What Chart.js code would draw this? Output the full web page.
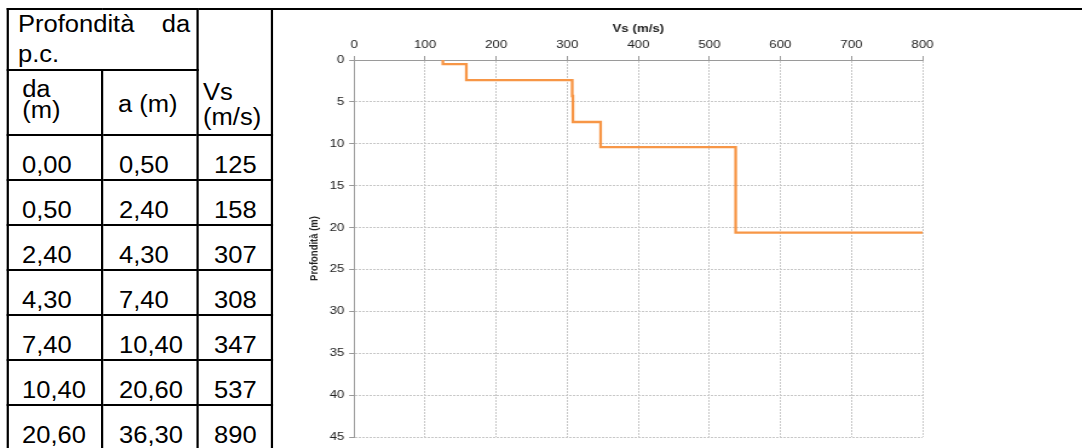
<!DOCTYPE html>
<html>
<head>
<meta charset="utf-8">
<script src="https://cdn.jsdelivr.net/npm/chart.js@4.4.1/dist/chart.umd.min.js"></script>
<style>
    html, body { margin: 0; padding: 0; background: #fff; width: 1082px; height: 448px; overflow: hidden; }
    #topline { position: absolute; left: 272px; top: 8px; width: 810px; height: 2px; background: #000; }
    #tblwrap { position: absolute; left: 0; top: 8px; transform: scaleX(1.11); transform-origin: 0 0; }
    #tbl { border-collapse: collapse; table-layout: fixed; margin-left: 5.94px;
           font-family: "Liberation Sans", Arial, Helvetica, sans-serif; font-size: 23px; color: #000; }
    #tbl td { border: 2px solid #000; padding: 0; vertical-align: top; }
    #tbl td > div { box-sizing: border-box; overflow: visible; white-space: nowrap; }
    .head1 { height: 59px; line-height: 30px; padding: 0 6.2px 0 8.3px; text-align: justify; white-space: normal !important;
             position: relative; top: -1.5px; }
    .head2 { height: 63px; }
    .vs { height: 124px; line-height: 25px; padding: 69.9px 0 0 3.5px; }
    .row { height: 43px; line-height: 24px; padding-top: 17.4px; }
    #chartwrap { position: absolute; left: 280px; top: 10px; width: 663px; height: 438px;
                 transform: scaleX(1.21); transform-origin: 0 0; }
</style>
</head>
<body>
<div id="tblwrap">
    <table id="tbl">
        <colgroup><col style="width:85px"><col style="width:86.5px"><col style="width:66.6px"></colgroup>
        <tbody id="tbody">
            <tr>
                <td colspan="2"><div class="head1">Profondità&nbsp; da p.c.</div></td>
                <td rowspan="2"><div class="vs">Vs<br>(m/s)</div></td>
            </tr>
            <tr>
                <td><div class="head2" style="line-height:21px;padding:7.9px 0 0 12px">da<br>(m)</div></td>
                <td><div class="head2" style="line-height:24px;padding:21.4px 0 0 13.4px">a (m)</div></td>
            </tr>
        </tbody>
    </table>
</div>
<div id="topline"></div>
<div id="chartwrap"><canvas id="vs-chart" width="663" height="438"></canvas></div>

<script>
// Layers: depth from / to (m) and shear wave velocity Vs (m/s)
const depthFrom = [0.00, 0.50, 2.40, 4.30, 7.40, 10.40, 20.60];
const depthTo = [0.50, 2.40, 4.30, 7.40, 10.40, 20.60, 36.30];
const vsLayers = [125, 158, 307, 308, 347, 537, 890];

// Axis ranges
const vsRange = [0, 800];
const vsStep = 100;
const depthRange = [0, 45];
const depthStep = 5;

const fmt = n => n.toFixed(2).replace('.', ',');

// Table rows
const tbody = document.getElementById('tbody');
depthFrom.forEach((d, i) => {
    const tr = document.createElement('tr');
    tr.innerHTML =
        `<td><div class="row" style="padding-left:11.9px">${fmt(d)}</div></td>` +
        `<td><div class="row" style="padding-left:14.3px">${fmt(depthTo[i])}</div></td>` +
        `<td><div class="row" style="padding-left:13.4px">${vsLayers[i]}</div></td>`;
    tbody.appendChild(tr);
});

// Step profile: each layer is a vertical segment at its Vs
const profile = [];
vsLayers.forEach((v, i) => {
    profile.push({ x: v, y: depthFrom[i] });
    profile.push({ x: v, y: depthTo[i] });
});

const font = { family: '"Liberation Sans", Arial, Helvetica, sans-serif', size: 11 };
const gridStyle = { color: '#c8c8c8', lineWidth: 1, tickLength: 4, tickColor: '#999' };
const borderStyle = { color: '#9a9a9a', width: 1, dash: [2, 1] };

const ctx = document.getElementById('vs-chart').getContext('2d');
new Chart(ctx, {
    type: 'scatter',
    data: {
        datasets: [{
            data: profile,
            showLine: true,
            borderColor: '#F79646',
            borderWidth: 2.3,
            pointRadius: 0,
            fill: false,
            tension: 0
        }]
    },
    options: {
        responsive: false,
        animation: false,
        layout: { padding: { left: 0, right: 132, top: 0, bottom: 11 } },
        plugins: { legend: { display: false }, tooltip: { enabled: false } },
        scales: {
            x: {
                type: 'linear',
                position: 'top',
                min: vsRange[0],
                max: vsRange[1],
                ticks: { stepSize: vsStep, color: '#222', font, padding: 4, maxRotation: 0 },
                grid: gridStyle,
                border: borderStyle,
                title: { display: true, text: 'Vs (m/s)', color: '#222',
                         font: { ...font, weight: 'bold' }, padding: { top: 12.4, bottom: 0 } },
                afterFit: s => { s.height = 50; }
            },
            y: {
                type: 'linear',
                reverse: true,
                min: depthRange[0],
                max: depthRange[1],
                ticks: { stepSize: depthStep, color: '#222', font, padding: 4 },
                grid: gridStyle,
                border: borderStyle,
                title: { display: true, text: 'Profondità (m)', color: '#222',
                         font: { ...font, size: 9.5, weight: 'bold' }, padding: { top: 23, bottom: 0 } },
                afterFit: s => { s.width = 61.2; }
            }
        }
    }
});
</script>
</body>
</html>
